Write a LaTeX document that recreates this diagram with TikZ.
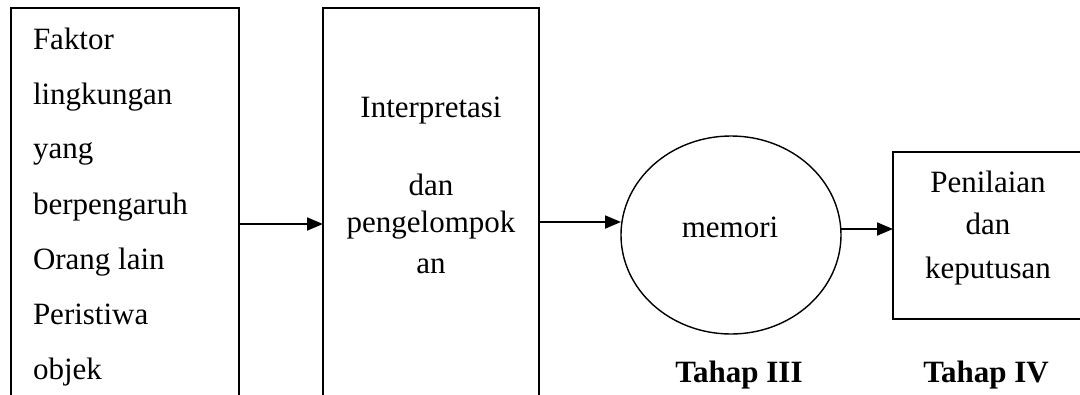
\documentclass[tikz,border=0pt]{standalone}
\usepackage{fontspec}
\setmainfont{Liberation Serif}
\usetikzlibrary{arrows.meta,shapes.geometric}
\begin{document}
\begin{tikzpicture}[x=1pt,y=-1pt,
  every node/.style={font=\fontsize{31}{31}\selectfont, inner sep=0pt, outer sep=0pt},
  panel/.style={draw, rectangle, line width=1.7pt},
  bubble/.style={draw, ellipse, line width=1.4pt},
  flow/.style={line width=1.8pt, -{Triangle[length=16pt,width=13pt]}},
  label/.style={anchor=base west},
  ctext/.style={anchor=base},
  stage/.style={anchor=base, font=\fontsize{31}{31}\selectfont\bfseries}]
  \useasboundingbox (0,0) rectangle (1080,394);
  \clip (0,0) rectangle (1080,394);

  % stage boxes (the two tall ones run past the lower edge)
  \node[panel, minimum width=228pt, minimum height=432pt] (lbox) at (125,224) {};
  \node[panel, minimum width=216pt, minimum height=428pt] (mbox) at (431,222) {};
  \node[bubble, minimum width=220pt, minimum height=198pt] (mem) at (731,235) {};
  \node[panel, minimum width=227pt, minimum height=167pt] (rbox) at (1006.5,235.5) {};

  % influencing factors
  \node[label] (f1) at (33,49)  {Faktor};
  \node[label] (f2) at (33,104) {lingkungan};
  \node[label] (f3) at (33,158) {yang};
  \node[label] (f4) at (33,214) {berpengaruh};
  \node[label] (f5) at (33,269) {Orang lain};
  \node[label] (f6) at (33,324) {Peristiwa};
  \node[label] (f7) at (33,379) {objek};

  % interpretation
  \node[ctext] (i1) at (431,117) {Interpretasi};
  \node[ctext] (i2) at (431,195) {dan};
  \node[ctext] (i3) at (431,232) {pengelompok};
  \node[ctext] (i4) at (431,273) {an};

  % memory
  \node[ctext] (m1) at (730,237) {memori};

  % judgement
  \node[ctext] (p1) at (988,192) {Penilaian};
  \node[ctext] (p2) at (988,234) {dan};
  \node[ctext] (p3) at (988,278) {keputusan};

  % stage captions
  \node[stage] (t3) at (739,382) {Tahap III};
  \node[stage] (t4) at (986,382) {Tahap IV};

  % connectors
  \draw[flow] (lbox.east) -- (lbox.east -| mbox.west);
  \draw[flow] (mbox.east) -- (mbox.east -| mem.west);
  \coordinate (r3) at ([yshift=6.5pt]rbox.west);
  \draw[flow] (r3 -| mem.east) -- (r3);
\end{tikzpicture}
\end{document}
